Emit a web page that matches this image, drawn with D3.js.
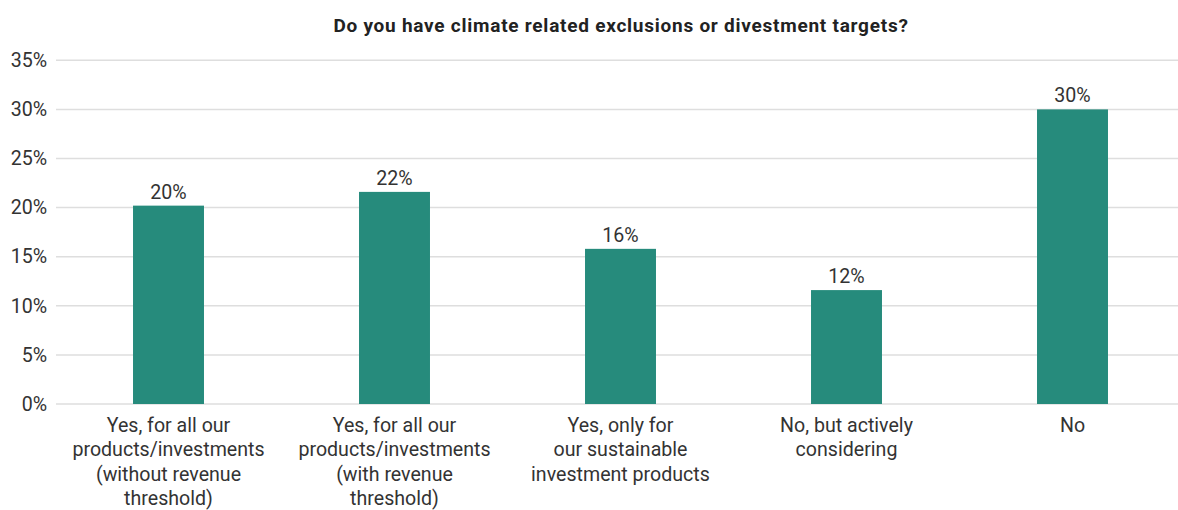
<!DOCTYPE html>
<html>
<head>
<meta charset="utf-8">
<script src="https://cdn.jsdelivr.net/npm/d3@7"></script>
<style>
  html, body { margin: 0; padding: 0; background: #fff; }
  svg { display: block; font-family: Roboto, "Noto Sans", sans-serif; }
</style>
</head>
<body>
<svg id="chart" width="1178" height="510"></svg>
<script>
// Survey answers and share of respondents (fractions)
const categories = [
  ["Yes, for all our", "products/investments", "(without revenue", "threshold)"],
  ["Yes, for all our", "products/investments", "(with revenue", "threshold)"],
  ["Yes, only for", "our sustainable", "investment products"],
  ["No, but actively", "considering"],
  ["No"]
];
const values = [0.202, 0.216, 0.158, 0.116, 0.300];
const yTicks = [0, 0.05, 0.10, 0.15, 0.20, 0.25, 0.30, 0.35];
const title = "Do you have climate related exclusions or divestment targets?";

const W = 1178, H = 510;
const svg = d3.select("#chart");
const textColor = "#333333";
const barColor = "#268b7c";
const fs = 19.6;

const x = d3.scaleBand()
  .domain(d3.range(categories.length))
  .range([55.5, 1185.5])
  .paddingInner(0.686)
  .paddingOuter(0.343);

const y = d3.scaleLinear().domain([0, 0.35]).range([404, 60.3]);
const pct = d3.format(".0%");

// Title
svg.append("text")
  .attr("x", 621).attr("y", 32)
  .attr("text-anchor", "middle")
  .attr("font-size", 19).attr("font-weight", 700)
  .attr("letter-spacing", 0.75)
  .attr("fill", "#222")
  .text(title);

// Gridlines
svg.append("g").selectAll("line").data(yTicks).join("line")
  .attr("x1", 56).attr("x2", W)
  .attr("y1", d => y(d)).attr("y2", d => y(d))
  .attr("stroke", "#dedede").attr("stroke-width", 1.5);

// Y axis labels
const yAxis = d3.axisLeft(y).tickValues(yTicks).tickFormat(pct).tickSize(0).tickPadding(0);
svg.append("g")
  .attr("transform", "translate(47,0)")
  .call(yAxis)
  .call(g => g.select(".domain").remove())
  .call(g => g.selectAll("text")
    .attr("font-size", fs).attr("fill", textColor)
    .attr("font-family", "Roboto, sans-serif"));

// Bars
svg.append("g").selectAll("rect").data(values).join("rect")
  .attr("x", (d, i) => x(i))
  .attr("width", x.bandwidth())
  .attr("y", d => y(d))
  .attr("height", d => y(0) - y(d))
  .attr("fill", barColor);

// Value labels
svg.append("g").selectAll("text").data(values).join("text")
  .attr("x", (d, i) => x(i) + x.bandwidth() / 2)
  .attr("y", d => y(d) - 7)
  .attr("text-anchor", "middle")
  .attr("font-size", fs).attr("fill", textColor)
  .text(d => pct(d));

// Category labels (multi-line)
const cat = svg.append("g").selectAll("text").data(categories).join("text")
  .attr("x", (d, i) => x(i) + x.bandwidth() / 2)
  .attr("y", 431.5)
  .attr("text-anchor", "middle")
  .attr("font-size", fs).attr("fill", textColor);
cat.selectAll("tspan").data(d => d).join("tspan")
  .attr("x", function () { return d3.select(this.parentNode).attr("x"); })
  .attr("dy", (d, i) => i === 0 ? 0 : 24.5)
  .text(d => d);
</script>
</body>
</html>
